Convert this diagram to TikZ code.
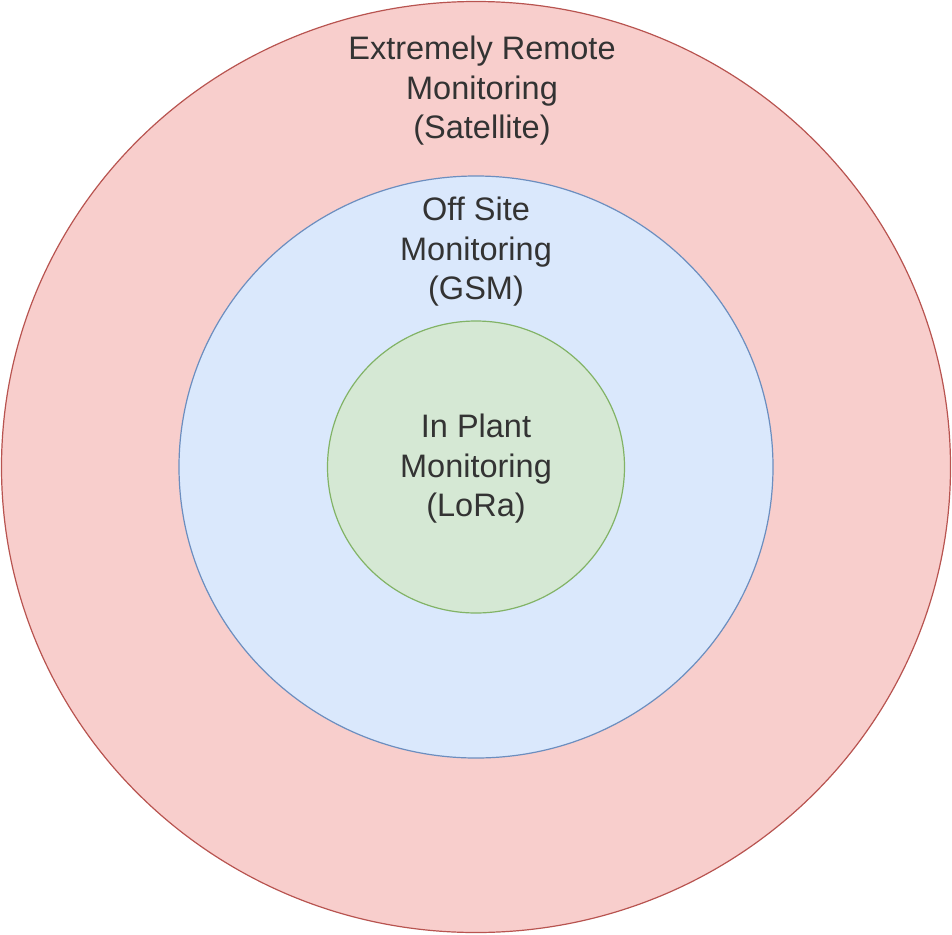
\documentclass[tikz,border=0pt]{standalone}
\usepackage{fontspec}
\setmainfont{Liberation Sans}
\usetikzlibrary{positioning}
\definecolor{satfill}{HTML}{F8CECC}
\definecolor{satline}{HTML}{B85450}
\definecolor{gsmfill}{HTML}{DAE8FC}
\definecolor{gsmline}{HTML}{6C8EBF}
\definecolor{lorafill}{HTML}{D5E8D4}
\definecolor{loraline}{HTML}{82B366}
\definecolor{labelgray}{HTML}{333333}
\tikzset{zone/.style = {line width = 1.2pt}}
\tikzset{zonelabel/.style = {align = center, text = labelgray, inner sep = 0,
                             font = \fontsize{32.5}{39.5}\selectfont}}

\begin{document}
\begin{tikzpicture}[x=1pt, y=-1pt]
    \useasboundingbox (0,0) rectangle (952,934);
    \coordinate (c) at (476,467);

    % the three zones
    \draw[zone, fill=satfill, draw=satline] (c) ellipse [x radius=474.5, y radius=465.5];
    \draw[zone, fill=gsmfill, draw=gsmline] (c) ellipse [x radius=297, y radius=291];
    \draw[zone, fill=lorafill, draw=loraline] (c) ellipse [x radius=148.5, y radius=146];

    \node[zonelabel] (sat) at (482,91) {Extremely Remote\\Monitoring\\(Satellite)};
    \node[zonelabel] (gsm) at (476,252) {Off Site\\Monitoring\\(GSM)};
    \node[zonelabel] (lora) at (476,469) {In Plant\\Monitoring\\(LoRa)};
  \end{tikzpicture}
\end{document}
